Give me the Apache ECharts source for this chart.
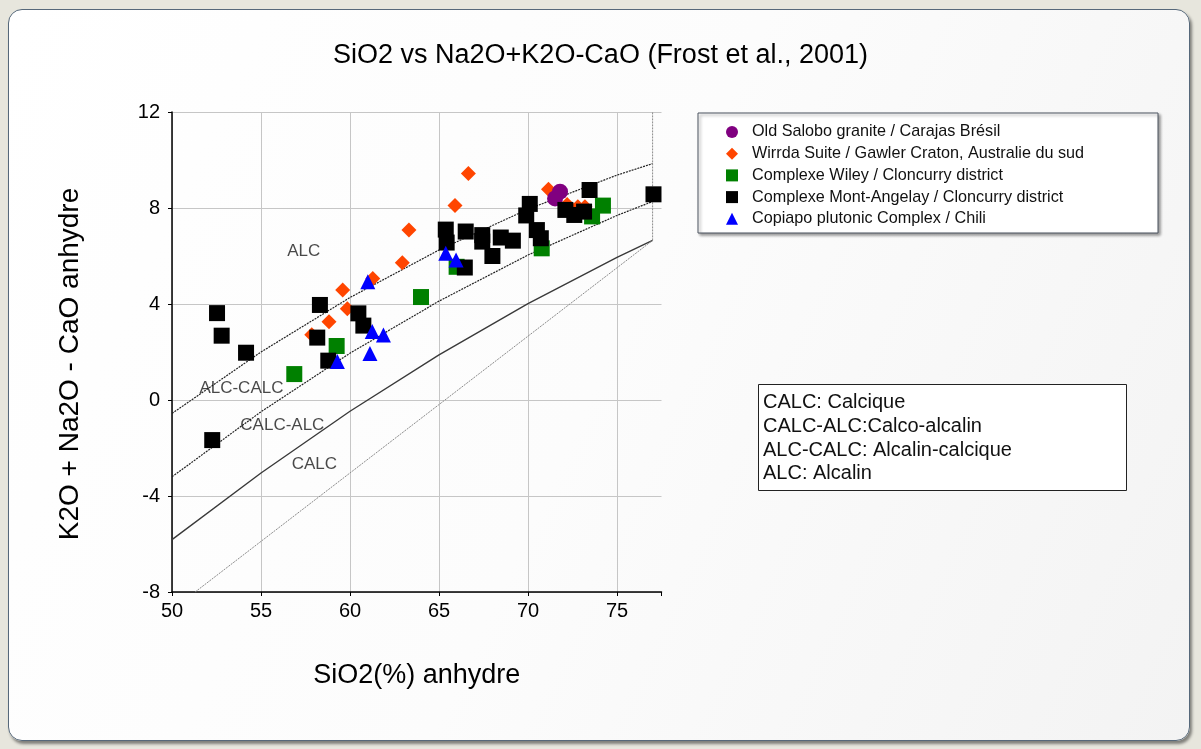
<!DOCTYPE html>
<html><head><meta charset="utf-8">
<script src="https://cdn.jsdelivr.net/npm/echarts@6/dist/echarts.min.js"></script>
<style>
html,body{margin:0;padding:0;width:1201px;height:749px;background:#e7e6dd;overflow:hidden}
#panel{position:absolute;left:8px;top:9px;width:1180px;height:730px;border:1.5px solid #56687a;border-radius:14px;background:linear-gradient(115deg,#ffffff 0%,#fcfcfc 50%,#f3f3f3 100%);box-shadow:2px 3px 3px rgba(0,0,0,0.45)}
#chart{position:absolute;left:0;top:0;width:1201px;height:749px}
</style></head><body><div id="panel"></div><div id="chart"></div>
<script>
// ---- data ----
const titleText = 'SiO2 vs Na2O+K2O-CaO (Frost et al., 2001)';
const xName = 'SiO2(%) anhydre';
const yName = 'K2O + Na2O - CaO anhydre';
const seriesNames = [
  'Old Salobo granite / Carajas Brésil',
  'Wirrda Suite / Gawler Craton, Australie du sud',
  'Complexe Wiley / Cloncurry district',
  'Complexe Mont-Angelay / Cloncurry district',
  'Copiapo plutonic Complex / Chili'
];
const salobo = [[71.8,8.68],[71.52,8.4]];
const wirrda = [[63.31,7.08],[62.94,5.72],[59.59,4.58],[59.85,3.8],[58.82,3.26],[61.28,5.06],[57.85,2.72],
  [66.65,9.44],[65.9,8.1],[71.15,8.78],[72.2,8.15],[72.8,8.05],[73.2,8.05]];
const wiley = [[56.87,1.08],[59.25,2.25],[63.99,4.29],[65.99,5.55],[70.77,6.32],[73.6,7.65],[74.21,8.1]];
const angelay = [[52.53,3.62],[52.79,2.68],[54.16,1.97],[52.26,-1.67],[58.31,3.96],[58.16,2.6],[58.78,1.64],
  [60.47,3.61],[60.75,3.1],[65.38,7.1],[65.43,6.56],[66.5,7.02],[67.43,6.87],[67.43,6.6],[68.0,6.0],
  [68.47,6.77],[69.15,6.64],[66.45,5.52],[69.9,7.69],[70.1,8.17],[70.5,7.08],[70.72,6.74],
  [72.1,7.92],[72.6,7.71],[73.15,7.85],[73.46,8.75],[77.05,8.57]];
const copiapo = [[61.0,4.93],[61.25,2.85],[61.88,2.71],[61.12,1.94],[59.29,1.6],[65.38,6.11],[65.96,5.83]];
// boundary curves
const lineAlcX = [[50,-0.56],[55,2.0],[60,4.27],[65,6.25],[70,7.95],[75,9.37],[77,9.85]];
const lineAcCa = [[50,-3.2],[55,-0.49],[60,1.95],[65,4.12],[70,6.04],[75,7.69],[77,8.27]];
const lineCaCalc = [[50,-5.82],[55,-3.04],[60,-0.47],[65,1.88],[70,4.02],[75,5.94],[77,6.65]];
const lineLow = [[51.3,-8],[77,6.65]];
const lineRight = [[77,6.65],[77,12]];
const regionNames = ['ALC','ALC-CALC','CALC-ALC','CALC'];
const regionPos = [[57.4,6.2],[53.9,0.5],[56.2,-1.04],[58.0,-2.67]];
const noteLines = ['CALC: Calcique','CALC-ALC:Calco-alcalin','ALC-CALC: Alcalin-calcique','ALC: Alcalin'];

const FONT = '"Liberation Sans", Arial, sans-serif';
const chart = echarts.init(document.getElementById('chart'));

function pts(name, data, symbol, size, color, z) {
  return {name, type:'scatter', data, symbol, symbolSize:size, z,
    itemStyle:{color, opacity:1}, emphasis:{disabled:true}};
}
function bline(data, color, width, type, z) {
  return {type:'line', data, showSymbol:false, symbol:'none', silent:true, z,
    lineStyle:{color, width, type}, emphasis:{disabled:true}};
}

const option = {
  animation:false,
  backgroundColor:'transparent',
  title:{text:titleText, left:'center', top:37,
    textStyle:{fontFamily:FONT, fontSize:27, fontWeight:'normal', color:'#000'}},
  grid:{left:172, top:112, width:489.5, height:480},
  xAxis:{type:'value', min:50, max:77.5, interval:5,
    name:xName, nameLocation:'middle', nameGap:70,
    nameTextStyle:{fontFamily:FONT, fontSize:27, color:'#000'},
    axisLine:{show:true, onZero:false, lineStyle:{color:'#000', width:1.5}},
    axisTick:{show:true, length:4, lineStyle:{color:'#000'}},
    axisLabel:{margin:9, fontFamily:FONT, fontSize:20, color:'#000',
      formatter:v => (v % 5 === 0 ? String(v) : '')},
    splitLine:{show:true, showMaxLine:false, lineStyle:{color:'#c6c6c6', width:1}}},
  yAxis:{type:'value', min:-8, max:12, interval:4,
    axisLine:{show:true, onZero:false, lineStyle:{color:'#000', width:1.5}},
    axisTick:{show:true, length:4, lineStyle:{color:'#000'}},
    axisLabel:{margin:12, fontFamily:FONT, fontSize:20, color:'#000'},
    splitLine:{show:true, lineStyle:{color:'#c6c6c6', width:1}}},
  legend:{orient:'vertical', left:721, top:119, itemWidth:12, itemHeight:12, itemGap:5.7,
    data:seriesNames,
    textStyle:{fontFamily:FONT, fontSize:16.2, lineHeight:16, color:'#111', padding:[0,0,0,9]}},
  graphic:[
    {type:'rect', z:0, shape:{x:698, y:113, width:460, height:120},
      style:{fill:'#fff', stroke:'#4d5560', lineWidth:1, shadowBlur:3, shadowOffsetX:2, shadowOffsetY:2, shadowColor:'rgba(0,0,0,0.4)'}},
    {type:'rect', z:0, shape:{x:758.5, y:384.5, width:368, height:106},
      style:{fill:'#fff', stroke:'#222', lineWidth:1}},
    {type:'text', z:1, x:763, y:391,
      style:{text:noteLines.join('\n'), font:'20px ' + FONT, lineHeight:23.7, fill:'#111'}},
    {type:'text', z:1, x:70, y:364, rotation:Math.PI/2,
      style:{text:yName, font:'28px ' + FONT, fill:'#000', align:'center', verticalAlign:'middle'}}
  ],
  series:[
    bline(lineAlcX, '#222', 1.2, [2,1], 1),
    bline(lineAcCa, '#222', 1.2, [2,1], 1),
    bline(lineCaCalc, '#3a3a3a', 1.4, 'solid', 1),
    bline(lineLow, '#8a8a8a', 1, [2,1], 1),
    bline(lineRight, '#8a8a8a', 1, [2,1], 1),
    pts(seriesNames[1], wirrda, 'diamond', 15, '#ff4500', 2),
    pts(seriesNames[0], salobo, 'circle', 16, '#800080', 3),
    pts(seriesNames[2], wiley, 'rect', 16, '#008000', 4),
    pts(seriesNames[3], angelay, 'rect', 16, '#000000', 5),
    pts(seriesNames[4], copiapo, 'triangle', 15, '#0000ff', 6),
    {type:'scatter', silent:true, symbolSize:0, z:7,
      data: regionNames.map((n,i) => ({name:n, value:regionPos[i]})),
      label:{show:true, position:'inside', formatter:p => p.name,
        fontFamily:FONT, fontSize:17, color:'#1a1a1a'}}
  ]
};
chart.setOption(option);
</script></body></html>
